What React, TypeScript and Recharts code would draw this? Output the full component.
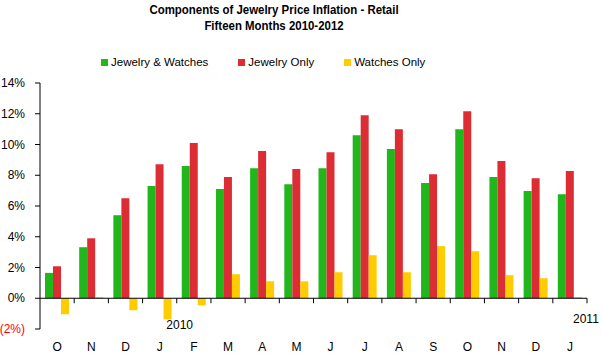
import React from "react";
import { BarChart, Bar, XAxis, YAxis, ReferenceLine } from "recharts";

// months Oct 2009 .. Jan 2011
const months = ["O", "N", "D", "J", "F", "M", "A", "M", "J", "J", "A", "S", "O", "N", "D", "J"];
const jewelryWatches = [1.65, 3.32, 5.4, 7.3, 8.6, 7.1, 8.46, 7.42, 8.46, 10.6, 9.7, 7.49, 11.0, 7.88, 6.97, 6.77];
const jewelryOnly = [2.08, 3.9, 6.5, 8.72, 10.1, 7.88, 9.57, 8.4, 9.5, 11.9, 11.0, 8.07, 12.17, 8.92, 7.81, 8.27];
const watchesOnly = [-1.04, 0.07, -0.78, -1.37, -0.46, 1.56, 1.1, 1.1, 1.69, 2.8, 1.69, 3.39, 3.06, 1.5, 1.3, 0.07];
const yTicks = [-2, 0, 2, 4, 6, 8, 10, 12, 14];
// year notes hung on a month index
const yearNotes: Record<number, string> = { 3: "2010", 15: "2011" };

const seriesNames = ["Jewelry & Watches", "Jewelry Only", "Watches Only"];
const seriesColors = ["#21b61b", "#dd2d34", "#ffcc00"];

const W = 602;
const H = 363;
const M_TOP = 83;
const M_RIGHT = 15;
const Y_AXIS_W = 40;
const X_AXIS_H = 34;
const FONT = "'Liberation Sans', Arial, sans-serif";

const data = months.map((m, i) => ({
  month: m,
  jw: jewelryWatches[i],
  jo: jewelryOnly[i],
  wo: watchesOnly[i],
}));

const plotH = H - M_TOP - X_AXIS_H;
const plotW = W - Y_AXIS_W - M_RIGHT;
const band = plotW / months.length;
const yMin = yTicks[0];
const yMax = yTicks[yTicks.length - 1];
const zeroY = M_TOP + (plotH * yMax) / (yMax - yMin);

const fmtPct = (v: number) => (v < 0 ? `(${-v}%)` : `${v}%`);

const YTick = (props: any) => {
  const { x, y, payload } = props;
  const v = payload.value as number;
  return (
    <text x={x} y={y} dy={4} textAnchor="end" fontSize={12} fontFamily={FONT} fill={v < 0 ? "#ff0000" : "#000"}>
      {fmtPct(v)}
    </text>
  );
};

const XTick = (props: any) => {
  const { x, payload, index } = props;
  const note = yearNotes[index];
  const base = H - X_AXIS_H;
  return (
    <g>
      {/* tick marks sit on the zero line, between months */}
      <line x1={x + band / 2} x2={x + band / 2} y1={zeroY} y2={zeroY + 5} stroke="#000" />
      <text x={x} y={base + 22} textAnchor="middle" fontSize={12} fontFamily={FONT} fill="#000">
        {payload.value}
      </text>
      {note && (
        <text
          x={x + (index === 3 ? 20 : 16)}
          y={index === 3 ? base : base - 6}
          textAnchor="middle"
          fontSize={12}
          fontFamily={FONT}
          fill="#000"
        >
          {note}
        </text>
      )}
    </g>
  );
};

export default function App() {
  return (
    <div style={{ position: "absolute", left: 0, top: 0, width: W, height: H, background: "#fff" }}>
      <div
        style={{
          position: "absolute",
          left: 0,
          width: 548,
          top: 2,
          textAlign: "center",
          fontFamily: FONT,
          fontWeight: "bold",
          fontSize: 13,
          lineHeight: "16px",
          transform: "scaleX(0.88)",
        }}
      >
        Components of Jewelry Price Inflation - Retail
        <br />
        Fifteen Months 2010-2012
      </div>
      <div
        style={{
          position: "absolute",
          left: 101,
          top: 54,
          display: "flex",
          gap: 30,
          fontFamily: FONT,
          fontSize: 11.5,
          lineHeight: "16px",
        }}
      >
        {seriesNames.map((n, i) => (
          <div key={n} style={{ display: "flex", alignItems: "center" }}>
            <span style={{ width: 7, height: 7, background: seriesColors[i], marginRight: 3, display: "inline-block" }} />
            {n}
          </div>
        ))}
      </div>
      <BarChart
        width={W}
        height={H}
        data={data}
        margin={{ top: M_TOP, right: M_RIGHT, left: 0, bottom: 0 }}
        barGap={0}
        barCategoryGap={5}
      >
        <XAxis
          dataKey="month"
          height={X_AXIS_H}
          axisLine={false}
          tickLine={false}
          interval={0}
          tick={<XTick />}
        />
        <YAxis
          domain={[yMin, yMax]}
          ticks={yTicks}
          width={Y_AXIS_W}
          axisLine={{ stroke: "#000" }}
          tickLine={{ stroke: "#000" }}
          tickSize={5}
          tickMargin={10}
          tick={<YTick />}
          interval={0}
        />
        <ReferenceLine y={0} stroke="#000" />
        <Bar dataKey="jw" name={seriesNames[0]} fill={seriesColors[0]} isAnimationActive={false} />
        <Bar dataKey="jo" name={seriesNames[1]} fill={seriesColors[1]} isAnimationActive={false} />
        <Bar dataKey="wo" name={seriesNames[2]} fill={seriesColors[2]} isAnimationActive={false} />
      </BarChart>
    </div>
  );
}
